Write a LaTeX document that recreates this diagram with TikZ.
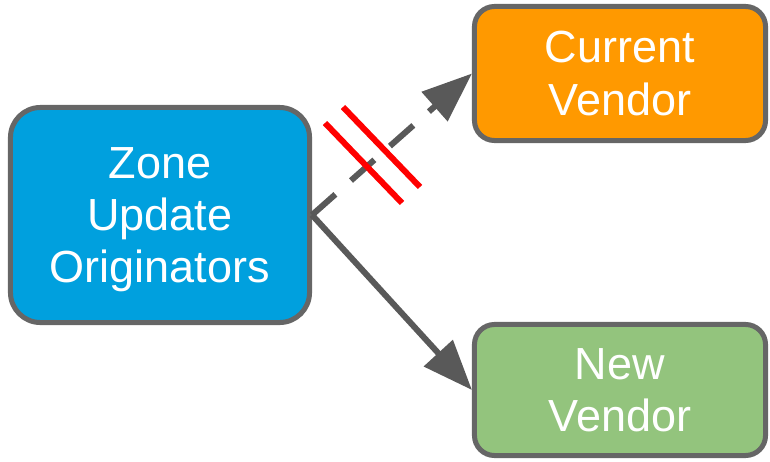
\documentclass[tikz,border=0pt]{standalone}
\usepackage{fontspec}
\setmainfont{Liberation Sans}
\usetikzlibrary{arrows.meta}
\definecolor{zoneblue}{HTML}{00A0DE}
\definecolor{curorange}{HTML}{FF9900}
\definecolor{newgreen}{HTML}{93C47D}
\definecolor{edgegray}{HTML}{666666}
\definecolor{arrowgray}{HTML}{595959}
\tikzset{
  box/.style={draw=edgegray, line width=0.125cm, text=white, align=center,
    inner sep=0pt, font=\fontsize{32}{37}\selectfont},
  link/.style={arrowgray, line width=0.15cm,
    -{Triangle[length=1.25cm,width=0.95cm]}},
  strike/.style={red, line width=0.15cm}
}
\begin{document}
\begin{tikzpicture}[x=0.025cm,y=-0.025cm]
  \useasboundingbox (0,0) rectangle (770,461);
  %Boxes
  \node[box, fill=zoneblue, minimum width=7.475cm, minimum height=5.375cm,
    rounded corners=0.75cm, text depth=0pt] (zone) at (160,215) {Zone\\Update\\Originators};
  \node[box, fill=curorange, minimum width=7.275cm, minimum height=3.35cm,
    rounded corners=0.5cm] (cur) at (620,73.5) {Current\\Vendor};
  \node[box, fill=newgreen, minimum width=7.275cm, minimum height=3.275cm,
    rounded corners=0.5cm] (new) at (620,390) {New\\Vendor};

  %Updates
  \draw[link, dash pattern=on 0.78cm off 0.52cm] (zone.east) -- (cur.west);
  \draw[link] (zone.east) -- (new.west);

  %Cut off
  \draw[strike] (325,123) -- (402,203);
  \draw[strike] (343,107) -- (420,187);
\end{tikzpicture}
\end{document}
